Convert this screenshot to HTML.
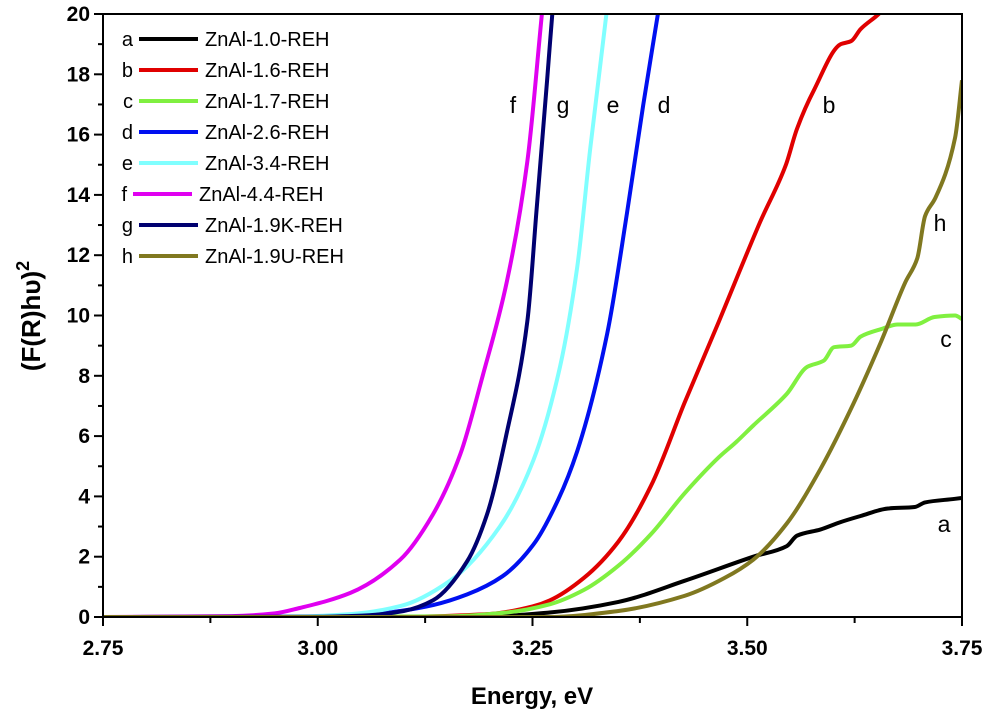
<!DOCTYPE html>
<html><head><meta charset="utf-8"><style>
body{margin:0;background:#fff}
svg{display:block;font-family:"Liberation Sans",Arial,sans-serif}
</style></head><body>
<svg id="chart" width="989" height="718">
<defs><clipPath id="clip"><rect x="103" y="14" width="859" height="603"/></clipPath></defs>
<g id="plot" clip-path="url(#clip)"></g>
<g id="axes"></g>
<g id="legend"></g>
<g id="labels"></g>
</svg>
<script>
const xTicks=[2.75,3.00,3.25,3.50,3.75];
const xTickLabels=["2.75","3.00","3.25","3.50","3.75"];
const yTicks=[0,2,4,6,8,10,12,14,16,18,20];
const seriesNames=["ZnAl-1.0-REH","ZnAl-1.6-REH","ZnAl-1.7-REH","ZnAl-2.6-REH","ZnAl-3.4-REH","ZnAl-4.4-REH","ZnAl-1.9K-REH","ZnAl-1.9U-REH"];
const seriesLetters=["a","b","c","d","e","f","g","h"];
const seriesColors=["#000000","#e00000","#80f040","#0010f0","#80ffff","#e000f0","#000070","#807820"];
const aX=[2.75,3.20,3.27,3.35,3.427,3.507,3.546,3.558,3.585,3.609,3.632,3.664,3.695,3.707,3.742,3.75];
const aY=[0,0.02,0.15,0.5,1.2,2.0,2.35,2.7,2.9,3.15,3.35,3.6,3.65,3.8,3.92,3.95];
const bX=[2.75,3.10,3.20,3.25,3.27,3.31,3.35,3.388,3.427,3.467,3.49,3.515,3.545,3.558,3.578,3.609,3.621,3.632,3.653,3.70];
const bY=[0,0.01,0.1,0.35,0.55,1.3,2.5,4.35,7.1,9.8,11.4,13.1,15.0,16.2,17.5,19.0,19.1,19.5,20.0,21.5];
const cX=[2.75,3.15,3.22,3.27,3.31,3.35,3.388,3.427,3.467,3.487,3.507,3.546,3.57,3.589,3.601,3.621,3.632,3.656,3.675,3.696,3.718,3.742,3.75];
const cY=[0,0.02,0.15,0.42,0.9,1.7,2.75,4.1,5.3,5.8,6.35,7.4,8.3,8.5,8.95,9.0,9.3,9.55,9.7,9.7,9.95,10.0,9.88];
const dX=[2.75,3.00,3.05,3.096,3.135,3.174,3.215,3.251,3.280,3.302,3.337,3.36,3.379,3.396,3.41];
const dY=[0,0.01,0.05,0.2,0.4,0.75,1.35,2.4,3.9,5.5,9.4,13.4,17.0,20.0,22.5];
const eX=[2.75,2.98,3.04,3.096,3.154,3.212,3.251,3.282,3.302,3.317,3.336,3.35];
const eY=[0,0.02,0.1,0.36,1.2,3.0,5.2,8.3,11.6,15.5,20.0,23];
const fX=[2.75,2.90,2.95,2.979,3.038,3.096,3.134,3.166,3.192,3.220,3.244,3.261,3.27];
const fY=[0,0.03,0.12,0.3,0.8,1.9,3.4,5.4,8.0,11.1,15.1,20.0,22.5];
const gX=[2.75,3.00,3.06,3.10,3.134,3.174,3.197,3.220,3.244,3.255,3.267,3.273,3.28];
const gY=[0,0.01,0.06,0.2,0.55,1.85,3.4,6.1,9.8,13.6,17.8,20.0,22.5];
const hX=[2.75,3.27,3.35,3.427,3.474,3.507,3.546,3.585,3.624,3.656,3.684,3.698,3.707,3.719,3.742,3.75];
const hY=[0,0,0.2,0.7,1.3,1.9,3.1,4.9,7.1,9.15,11.1,11.9,13.3,13.9,15.9,17.8];
const allX=[aX,bX,cX,dX,eX,fX,gX,hX], allY=[aY,bY,cY,dY,eY,fY,gY,hY];

const NS="http://www.w3.org/2000/svg";
const X0=103,X1=962,Y0=617,Y1=14;
const sx=v=>X0+(v-2.75)/(3.75-2.75)*(X1-X0);
const sy=v=>Y0-(v-0)/(20-0)*(Y0-Y1);
function mk(tag,attrs,parent,text){const e=document.createElementNS(NS,tag);for(const k in attrs)e.setAttribute(k,attrs[k]);if(text!==undefined)e.textContent=text;parent.appendChild(e);return e;}
function monoPath(xs,ys){
  const n=xs.length,px=xs.map(sx),py=ys.map(sy);
  const dx=[],m=[],t=new Array(n);
  for(let i=0;i<n-1;i++){dx[i]=px[i+1]-px[i];m[i]=(py[i+1]-py[i])/dx[i];}
  t[0]=m[0];t[n-1]=m[n-2];
  for(let i=1;i<n-1;i++){t[i]=(m[i-1]*m[i]<=0)?0:(3*(dx[i-1]+dx[i]))/((2*dx[i]+dx[i-1])/m[i-1]+(dx[i]+2*dx[i-1])/m[i]);}
  let d='M'+px[0].toFixed(1)+','+py[0].toFixed(1);
  for(let i=0;i<n-1;i++){const h=dx[i]/3;
    d+='C'+(px[i]+h).toFixed(1)+','+(py[i]+t[i]*h).toFixed(1)+' '+(px[i+1]-h).toFixed(1)+','+(py[i+1]-t[i+1]*h).toFixed(1)+' '+px[i+1].toFixed(1)+','+py[i+1].toFixed(1);}
  return d;
}
const plot=document.getElementById('plot'),axes=document.getElementById('axes'),legend=document.getElementById('legend'),labels=document.getElementById('labels');

for(let i=0;i<8;i++){
  const p=mk('path',{d:monoPath(allX[i],allY[i]),fill:'none',stroke:seriesColors[i],'stroke-width':4,'stroke-linejoin':'round'},plot);
  
  
}
const fr=mk('rect',{x:X0,y:Y1,width:X1-X0,height:Y0-Y1,fill:'none',stroke:'#000','stroke-width':2},axes);


for(let v=2.75;v<=3.7501;v+=0.125){
  const major=Math.abs(((v-2.75)/0.25)-Math.round((v-2.75)/0.25))<1e-6;
  const t=mk('line',{x1:sx(v),x2:sx(v),y1:Y0,y2:Y0+(major?9:6),stroke:'#000','stroke-width':2},axes);
  
  
}
xTicks.forEach((v,i)=>{
  const t=mk('text',{x:sx(v),y:Y0+38,'text-anchor':'middle','font-size':21,'font-weight':'bold'},axes,xTickLabels[i]);
  
  
});
for(let v=0;v<=20;v+=1){
  const major=v%2===0;
  const t=mk('line',{x1:X0-(major?9:5),x2:X0,y1:sy(v),y2:sy(v),stroke:'#000','stroke-width':2},axes);
  
  
}
yTicks.forEach(v=>{
  const t=mk('text',{x:X0-13,y:sy(v)+7,'text-anchor':'end','font-size':21,'font-weight':'bold'},axes,String(v));
  
  
});
const xt=mk('text',{x:532,y:704,'text-anchor':'middle','font-size':24,'font-weight':'bold'},axes,'Energy, eV');


const yt=mk('text',{transform:'translate(40,316) rotate(-90)','text-anchor':'middle','font-size':26,'font-weight':'bold'},axes,'(F(R)hυ)');


mk('tspan',{'font-size':18,dy:-11},yt,'2');
for(let i=0;i<8;i++){
  const y=39+i*31;
  const g=mk('g',{},legend);
  
  
  const lx=i===5?133:139;
  mk('text',{x:lx-6,y:y+7,'text-anchor':'end','font-size':20},g,seriesLetters[i]);
  mk('line',{x1:lx,x2:lx+59,y1:y,y2:y,stroke:seriesColors[i],'stroke-width':4},g);
  mk('text',{x:lx+66,y:y+7,'font-size':20},g,seriesNames[i]);
}
const cl=[["f",513,113],["g",563,113],["e",613,113],["d",664,113],["b",829,113],["h",940,231],["c",946,347],["a",944,532]];
cl.forEach(c=>{
  const t=mk('text',{x:c[1],y:c[2],'text-anchor':'middle','font-size':23},labels,c[0]);
  
  
});
</script>
</body></html>
